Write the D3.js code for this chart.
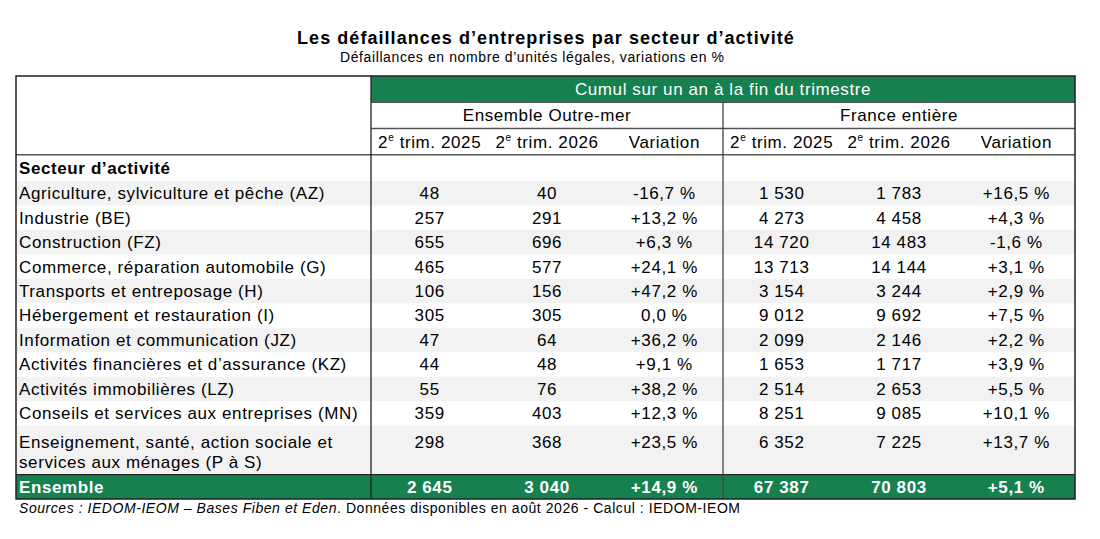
<!DOCTYPE html>
<html>
<head>
<meta charset="utf-8">
<script src="https://cdn.jsdelivr.net/npm/d3@7"></script>
<style>
  body { margin: 0; background: #fff; }
  text { font-family: "Liberation Sans", Arial, sans-serif; }
</style>
</head>
<body>
<div id="div_chart"></div>
<script>
// Data
const sectors = [
    "Agriculture, sylviculture et pêche (AZ)",
    "Industrie (BE)",
    "Construction (FZ)",
    "Commerce, réparation automobile (G)",
    "Transports et entreposage (H)",
    "Hébergement et restauration (I)",
    "Information et communication (JZ)",
    "Activités financières et d’assurance (KZ)",
    "Activités immobilières (LZ)",
    "Conseils et services aux entreprises (MN)",
    "Enseignement, santé, action sociale et|services aux ménages (P à S)"
];
const om2025 = [48, 257, 655, 465, 106, 305, 47, 44, 55, 359, 298];
const om2026 = [40, 291, 696, 577, 156, 305, 64, 48, 76, 403, 368];
const omVar  = [-16.7, 13.2, 6.3, 24.1, 47.2, 0.0, 36.2, 9.1, 38.2, 12.3, 23.5];
const fr2025 = [1530, 4273, 14720, 13713, 3154, 9012, 2099, 1653, 2514, 8251, 6352];
const fr2026 = [1783, 4458, 14483, 14144, 3244, 9692, 2146, 1717, 2653, 9085, 7225];
const frVar  = [16.5, 4.3, -1.6, 3.1, 2.9, 7.5, 2.2, 3.9, 5.5, 10.1, 13.7];
const totalOm = [2645, 3040, 14.9];
const totalFr = [67387, 70803, 5.1];
const groups = ["Ensemble Outre-mer", "France entière"];
const periods = ["2025", "2026"];

// Basic size information
var svgWidth = 1100;
var svgHeight = 539;
var tableLeft = 16, tableRight = 1075, labelRight = 371;
var tableTop = 76, headBottom = 181, tableBottom = 499;
const green = "#17804f";
const stripe = "#f2f2f2";
const lineColor = "#555";

// Locale for French numbers
const fr = d3.formatLocale({decimal: ",", thousands: "\u00a0", grouping: [3], currency: ["", "€"]});
const fmtInt = fr.format(",d");
const fmtVar = v => (v === 0 ? "0,0" : fr.format("+.1f")(v).replace("−", "-")) + " %";

// Row layout in units (header 3, secteur 1, rows, total 1)
const rowUnits = sectors.map(s => s.includes("|") ? 2 : 1);
const totalUnits = 3 + 1 + d3.sum(rowUnits) + 1;
const y = d3.scaleLinear().domain([0, 4, totalUnits]).range([tableTop, headBottom, tableBottom]);

// Columns
const colKeys = d3.range(6);
const x = d3.scaleBand().domain(colKeys).range([labelRight, tableRight]);
const xMid = x(3);

// Prepare svg canvas
var svg = d3.select("#div_chart")
    .append("svg")
        .attr("width", svgWidth)
        .attr("height", svgHeight)
        .attr("viewBox", [0, 0, svgWidth, svgHeight]);

// Title
svg.append("text")
    .attr("x", 546).attr("y", 44)
    .attr("text-anchor", "middle")
    .style("font-size", "18px").style("font-weight", "bold")
    .style("letter-spacing", "1.05px")
    .text("Les défaillances d’entreprises par secteur d’activité");
svg.append("text")
    .attr("x", 340).attr("y", 62)
    .style("font-size", "14px")
    .style("letter-spacing", "0.6px")
    .text("Défaillances en nombre d’unités légales, variations en %");

// Row starts
let u = 4;
const rows = sectors.map((s, i) => {
    const r = {i: i, lines: s.split("|"), y0: u, units: rowUnits[i],
        vals: [om2025[i], om2026[i], omVar[i], fr2025[i], fr2026[i], frVar[i]]};
    u += rowUnits[i];
    return r;
});
const totalStart = u;

// Stripes
svg.append("g").selectAll("rect")
    .data(rows.filter(r => r.i % 2 === 0))
    .join("rect")
        .attr("x", tableLeft).attr("width", tableRight - tableLeft)
        .attr("y", d => y(d.y0)).attr("height", d => y(d.y0 + d.units) - y(d.y0))
        .attr("fill", stripe);

// Green header and total
svg.append("rect")
    .attr("x", labelRight).attr("y", y(0))
    .attr("width", tableRight - labelRight).attr("height", y(1) - y(0))
    .attr("fill", green);
svg.append("rect")
    .attr("x", tableLeft).attr("y", y(totalStart))
    .attr("width", tableRight - tableLeft).attr("height", y(totalStart + 1) - y(totalStart))
    .attr("fill", green);

// Cell text style
const fs = "17px";
const ls = "0.6px";

svg.append("text")
    .attr("x", (labelRight + tableRight) / 2).attr("y", y(0.5))
    .attr("dy", "0.35em").attr("text-anchor", "middle")
    .attr("fill", "#fff").style("font-size", fs).style("letter-spacing", ls)
    .text("Cumul sur un an à la fin du trimestre");

svg.append("g").selectAll("text")
    .data(groups)
    .join("text")
        .attr("x", (d, i) => x(i * 3) + x.bandwidth() * 1.5)
        .attr("y", y(1.5)).attr("dy", "0.35em")
        .attr("text-anchor", "middle")
        .style("font-size", fs).style("letter-spacing", ls)
        .text(d => d);

// Sub headers
const subHeads = colKeys.map(k => k % 3 === 2 ? null : periods[k % 3]);
const sh = svg.append("g").selectAll("text")
    .data(colKeys)
    .join("text")
        .attr("x", k => x(k) + x.bandwidth() / 2)
        .attr("y", y(2.5) + 6)
        .attr("text-anchor", "middle")
        .style("font-size", fs).style("letter-spacing", ls);
sh.filter(k => subHeads[k] === null).text("Variation");
sh.filter(k => subHeads[k] !== null).each(function(k) {
    const t = d3.select(this);
    t.append("tspan").text("2");
    t.append("tspan").attr("dy", -7).style("font-size", "10px").text("e");
    t.append("tspan").attr("dy", 7).text(" trim. " + subHeads[k]);
});

// Secteur header
svg.append("text")
    .attr("x", tableLeft + 3).attr("y", y(3.5)).attr("dy", "0.35em")
    .style("font-size", fs).style("font-weight", "bold").style("letter-spacing", ls)
    .text("Secteur d’activité");

// Body rows
const rowG = svg.append("g").selectAll("g")
    .data(rows)
    .join("g")
        .attr("transform", d => "translate(0," + (d.units > 1 ? y(d.y0) + y(d.y0 + d.units) - y(d.y0 + 1) - 8 : y(d.y0 + 0.5)) + ")");

rowG.append("text")
    .style("font-size", fs).style("letter-spacing", ls)
    .selectAll("tspan")
    .data(d => d.lines)
    .join("tspan")
        .attr("x", tableLeft + 3)
        .attr("y", (d, i) => i * 20)
        .attr("dy", "0.35em")
        .text(d => d);

rowG.selectAll("text.val")
    .data(d => d.vals)
    .join("text")
        .attr("class", "val")
        .attr("x", (d, k) => x(k) + x.bandwidth() / 2)
        .attr("dy", "0.35em").attr("text-anchor", "middle")
        .style("font-size", fs).style("letter-spacing", ls)
        .text((d, k) => k % 3 === 2 ? fmtVar(d) : fmtInt(d));

// Total row
const totals = totalOm.concat(totalFr);
const tg = svg.append("g").attr("transform", "translate(0," + y(totalStart + 0.5) + ")");
tg.append("text")
    .attr("x", tableLeft + 3).attr("dy", "0.35em")
    .attr("fill", "#fff").style("font-size", fs).style("font-weight", "bold").style("letter-spacing", ls)
    .text("Ensemble");
tg.selectAll("text.val")
    .data(totals)
    .join("text")
        .attr("class", "val")
        .attr("x", (d, k) => x(k) + x.bandwidth() / 2)
        .attr("dy", "0.35em").attr("text-anchor", "middle")
        .attr("fill", "#fff").style("font-size", fs).style("font-weight", "bold").style("letter-spacing", ls)
        .text((d, k) => k % 3 === 2 ? fmtVar(d) : fmtInt(d));

// Lines
const lines = [
    // horizontal
    [labelRight, y(1), tableRight, y(1), lineColor],
    [labelRight, y(2), tableRight, y(2), lineColor],
    [tableLeft, y(3), tableRight, y(3), lineColor],
    [tableLeft, y(totalStart), tableRight, y(totalStart), "#222"],
    // vertical
    [labelRight, y(0), labelRight, y(totalUnits), "#222"],
    [xMid, y(1), xMid, y(totalUnits), "#444"]
];
svg.append("g").selectAll("line")
    .data(lines)
    .join("line")
        .attr("x1", d => d[0]).attr("y1", d => d[1])
        .attr("x2", d => d[2]).attr("y2", d => d[3])
        .attr("stroke", d => d[4]).attr("stroke-width", 1.3);

// Outer border
svg.append("rect")
    .attr("x", tableLeft).attr("y", tableTop)
    .attr("width", tableRight - tableLeft).attr("height", tableBottom - tableTop)
    .attr("fill", "none").attr("stroke", "#222").attr("stroke-width", 1.5);

// Source
const src = svg.append("text")
    .attr("x", tableLeft + 3).attr("y", 513)
    .style("font-size", "14px").style("letter-spacing", "0.55px");
src.append("tspan").style("font-style", "italic").text("Sources : IEDOM-IEOM – Bases Fiben et Eden");
src.append("tspan").text(". Données disponibles en août 2026 - Calcul : IEDOM-IEOM");
</script>
</body>
</html>
